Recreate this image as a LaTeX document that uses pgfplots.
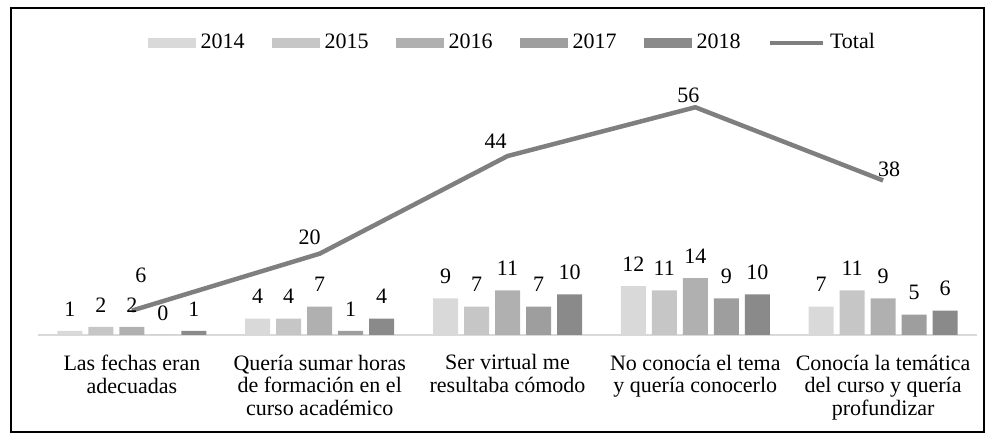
\documentclass[border=0pt]{standalone}
\usepackage{fontspec}
\setmainfont{Liberation Serif}
\usepackage{pgfplots}
\usepackage{pgfplotstable}
\pgfplotsset{compat=1.18}

\definecolor{c2014}{HTML}{D9D9D9}
\definecolor{c2015}{HTML}{C6C6C6}
\definecolor{c2016}{HTML}{B0B0B0}
\definecolor{c2017}{HTML}{9E9E9E}
\definecolor{c2018}{HTML}{8A8A8A}
\definecolor{ctotal}{HTML}{7F7F7F}

% motivos por año, total y desplazamiento de la etiqueta del total (pt)
\pgfplotstableread{
x a2014 a2015 a2016 a2017 a2018 total dx dy
0 1  2  2  0 1  6  4.5 17.5
1 4  4  7  1 4  20 -5   8
2 9  7  11 7 10 44 -6   7.5
3 12 11 14 9 10 56 -3.5 5.75
4 7  11 9  5 6  38 3    5.75
}\motivos

\pgfplotsset{
  barra/.style={ybar, bar width=12.5pt, draw=none, bar shift=#1,
    nodes near coords,
    every node near coord/.append style={text=black, xshift=#1, yshift=3.5pt},
    legend image code/.code={\fill[##1] (0pt,-2.5pt) rectangle (24pt,2.5pt);}},
  linea/.style={legend image code/.code={\draw[##1] (0pt,0pt) -- (26.5pt,0pt);}},
}

\begin{document}
\fontsize{11}{11.4}\selectfont
\begin{tikzpicture}
\begin{axis}[
    name=ax,
    scale only axis,
    width=469.5pt, height=122pt,
    xmin=-0.5, xmax=4.5,
    ymin=0, ymax=60,
    axis x line*=bottom,
    axis y line=none,
    x axis line style={-, draw=c2014, line width=1pt},
    xtick={0,1,2,3,4},
    xticklabels={
      {Las fechas eran\\adecuadas},
      {Quería sumar horas\\de formación en el\\curso académico},
      {Ser virtual me\\resultaba cómodo},
      {No conocía el tema\\y quería conocerlo},
      {Conocía la temática\\del curso y quería\\profundizar}},
    xticklabel style={align=center, yshift=-6pt},
    major tick length=0pt,
    ytick=\empty,
    clip=false,
    /pgf/number format/assume math mode=true,
    legend columns=-1,
    legend style={draw=none, fill=none,
      at={(0.504,1.197)}, anchor=center,
      nodes={inner sep=0pt},
      /tikz/every odd column/.append style={column sep=2.5pt},
      /tikz/every even column/.append style={column sep=13.5pt}},
]
\addplot[barra=-31pt, fill=c2014] table[x=x, y=a2014] {\motivos};
\addplot[barra=-15.5pt, fill=c2015] table[x=x, y=a2015] {\motivos};
\addplot[barra=0pt, fill=c2016] table[x=x, y=a2016] {\motivos};
\addplot[barra=15.5pt, fill=c2017] table[x=x, y=a2017] {\motivos};
\addplot[barra=31pt, fill=c2018] table[x=x, y=a2018] {\motivos};
\addplot[linea, sharp plot, no markers, draw=ctotal, line width=2.25pt, line join=round,
    nodes near coords,
    visualization depends on={\thisrow{dx} \as \dx},
    visualization depends on={\thisrow{dy} \as \dy},
    every node near coord/.append style={text=black, anchor=center,
      xshift=\dx pt, yshift=\dy pt}]
    table[x=x, y=total] {\motivos};
\legend{2014,2015,2016,2017,2018,Total}
\end{axis}
\draw[line width=0.6pt] ([shift={(-13.5pt,-48.5pt)}]ax.south west)
  rectangle ([shift={(3.5pt,41.5pt)}]ax.north east);
\path ([shift={(-19pt,-52.5pt)}]ax.south west)
  rectangle ([shift={(7.5pt,45.5pt)}]ax.north east);
\end{tikzpicture}
\end{document}
